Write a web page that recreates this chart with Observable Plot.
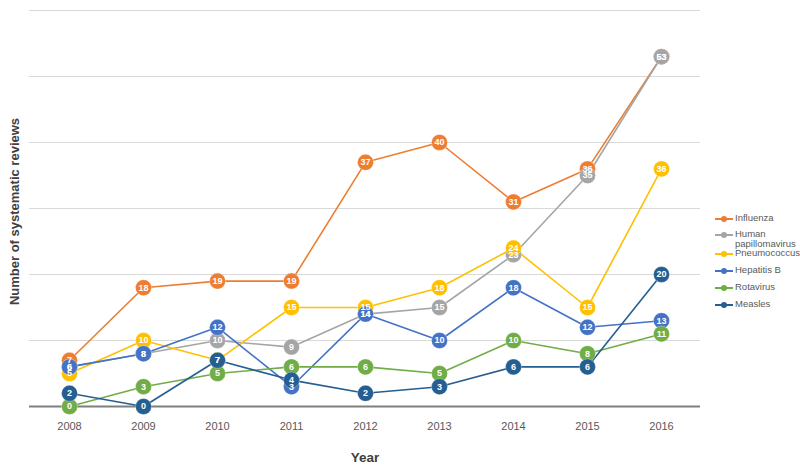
<!DOCTYPE html>
<html>
<head>
<meta charset="utf-8">
<script src="https://cdn.jsdelivr.net/npm/d3@7"></script>
<script src="https://cdn.jsdelivr.net/npm/@observablehq/plot@0.6"></script>
<style>
  html, body { margin: 0; padding: 0; background: #fff; }
  #wrap { position: relative; width: 800px; height: 472px; font-family: "Liberation Sans", Arial, sans-serif; }
  #legend { position: absolute; left: 715px; top: 0; font-size: 9.5px; color: #595959; }
  .item { position: absolute; left: 0; display: flex; align-items: flex-start; width: 85px; }
  .sw { position: relative; width: 18px; height: 2px; margin-top: 5px; flex: none; }
  .sw i { position: absolute; left: 6px; top: -2.5px; width: 6px; height: 6px; border-radius: 50%; }
  .lb { margin-left: 2px; line-height: 9.5px; }
</style>
</head>
<body>
<div id="wrap"></div>
<script>
const years = ["2008","2009","2010","2011","2012","2013","2014","2015","2016"];
const seriesNames = ["Influenza","Human papillomavirus","Pneumococcus","Hepatitis B","Rotavirus","Measles"];
const colors = ["#ED7D31","#A5A5A5","#FFC000","#4472C4","#70AD47","#255E91"];
const influenza   = [7, 18, 19, 19, 37, 40, 31, 36, 53];
const hpv         = [6, 8, 10, 9, 14, 15, 23, 35, 53];
const pneumococcus= [5, 10, 7, 15, 15, 18, 24, 15, 36];
const hepatitisB  = [6, 8, 12, 3, 14, 10, 18, 12, 13];
const rotavirus   = [0, 3, 5, 6, 6, 5, 10, 8, 11];
const measles     = [2, 0, 7, 4, 2, 3, 6, 6, 20];
const gridValues  = [10, 20, 30, 40, 50, 60];
const legendTops  = [213, 229, 248, 265, 282, 299];

const allSeries = [influenza, hpv, pneumococcus, hepatitisB, rotavirus, measles];
const data = [];
allSeries.forEach((vals, si) => vals.forEach((v, i) => data.push({series: seriesNames[si], year: years[i], value: v})));

const colorScale = {domain: seriesNames, range: colors};

const chart = Plot.plot({
  width: 800,
  height: 472,
  marginLeft: 29,
  marginRight: 100,
  marginTop: 10,
  marginBottom: 66,
  style: {fontFamily: "Liberation Sans, Arial, sans-serif", background: "#fff"},
  x: {type: "point", domain: years, padding: 0.5, label: null},
  y: {domain: [0, 60], axis: null},
  color: colorScale,
  marks: [
    Plot.ruleY(gridValues, {stroke: "#d9d9d9", strokeWidth: 1}),
    Plot.ruleY([0], {stroke: "#7f7f7f", strokeWidth: 1.8}),
    Plot.axisX({tickSize: 0, tickPadding: 16, fontSize: 11, color: "#595959", label: null}),
    Plot.lineY(data, {x: "year", y: "value", z: "series", stroke: "series", strokeWidth: 1.6}),
    Plot.dot(data, {x: "year", y: "value", fill: "series", r: 8, stroke: "white", strokeWidth: 0.6, strokeOpacity: 0.5}),
    Plot.text(data, {x: "year", y: "value", text: d => String(d.value), fill: "white", fontSize: 9, fontWeight: "bold"}),
    Plot.text(["Year"], {frameAnchor: "bottom", dy: 55, fontSize: 13.5, fontWeight: "bold", fill: "#404040"}),
    Plot.text(["Number of systematic reviews"], {frameAnchor: "left", textAnchor: "middle", dx: -15, dy: 3, rotate: -90, fontSize: 13, fontWeight: "bold", fill: "#404040"})
  ]
});

const wrap = document.getElementById("wrap");
wrap.appendChild(chart);

const legend = document.createElement("div");
legend.id = "legend";
seriesNames.forEach((name, i) => {
  const item = document.createElement("div");
  item.className = "item";
  item.style.top = legendTops[i] + "px";
  item.innerHTML = `<span class="sw" style="background:${colors[i]}"><i style="background:${colors[i]}"></i></span><span class="lb">${name.replace("Human papillomavirus", "Human<br>papillomavirus")}</span>`;
  legend.appendChild(item);
});
wrap.appendChild(legend);
</script>
</body>
</html>
